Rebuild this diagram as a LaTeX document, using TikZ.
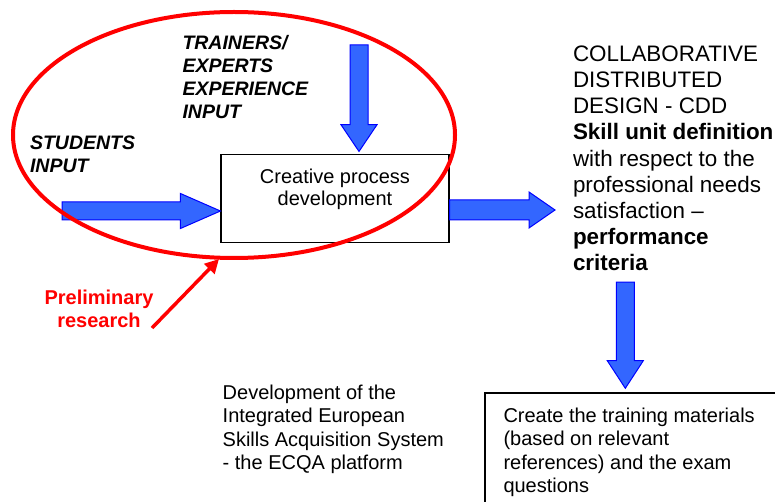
\documentclass[tikz,border=0pt]{standalone}
\usepackage{fontspec}
\setmainfont{Liberation Sans}
\usetikzlibrary{calc,arrows.meta,shapes.geometric}
\definecolor{arrowblue}{RGB}{51,102,255}
\definecolor{edgeblue}{RGB}{0,0,255}
\definecolor{pred}{RGB}{255,0,0}
\begin{document}
\begin{tikzpicture}[x=1pt,y=-1pt,
  txt/.style={inner sep=0pt, outer sep=0pt, align=left, anchor=north west},
  inlabel/.style={txt, font=\fontsize{19.5}{23}\selectfont\bfseries\itshape},
  plainbox/.style={draw=black, line width=1.1pt, inner sep=0pt},
  blockarrow/.style n args={3}{fill=arrowblue, draw=edgeblue, line width=1pt, line join=miter,
    to path={
      ($(\tikztostart)!#1!90:(\tikztotarget)$)
      -- ($(\tikztotarget)!#3!(\tikztostart)!#1!90:(\tikztotarget)$)
      -- ($(\tikztotarget)!#3!(\tikztostart)!#2!90:(\tikztotarget)$)
      -- (\tikztotarget)
      -- ($(\tikztotarget)!#3!(\tikztostart)!#2!-90:(\tikztotarget)$)
      -- ($(\tikztotarget)!#3!(\tikztostart)!#1!-90:(\tikztotarget)$)
      -- ($(\tikztostart)!#1!-90:(\tikztotarget)$)
      -- cycle}},
  redarrow/.style={draw=pred, line width=3.5pt, -{Triangle[length=14pt,width=14pt]}}
]
\useasboundingbox (0,0) rectangle (775,502);
\clip (0,0) rectangle (775,502);

% central box
\node[plainbox, minimum width=228pt, minimum height=88pt] (cpd) at (335,198.5) {};
\node[inner sep=0pt, align=center, anchor=north, font=\fontsize{20}{22}\selectfont] (cpdtxt) at (335,169) {Creative process\\development};

% bottom box (runs off the page)
\node[plainbox, minimum width=310pt, minimum height=130pt] (train) at (640,458) {};
\node[txt, font=\fontsize{20}{23.3}\selectfont] (traintxt) at (503.5,408) {Create the training materials\\(based on relevant\\references) and the exam\\questions};

% labels
\node[inlabel] (trainers) at (182.5,35) {TRAINERS/\\EXPERTS\\EXPERIENCE\\INPUT};
\node[inlabel] (students) at (30,136) {STUDENTS\\INPUT};
\node[txt, font=\fontsize{22.4}{26.1}\selectfont] (cdd) at (573,46) {COLLABORATIVE\\DISTRIBUTED\\DESIGN - CDD\\\textbf{Skill unit definition}\\with respect to the\\professional needs\\satisfaction --\\\textbf{performance}\\\textbf{criteria}};
\node[txt, font=\fontsize{20}{23.5}\selectfont] (ecqa) at (222.7,385) {Development of the\\Integrated European\\Skills Acquisition System\\- the ECQA platform};
\node[inner sep=0pt, align=center, anchor=north, text=pred, font=\fontsize{20}{23.5}\selectfont\bfseries] (pre) at (99,289.5) {Preliminary\\research};

% arrow end points
\coordinate (sTail) at (62,211);
\coordinate (sTip) at ([yshift=-12.5pt]cpd.west);
\coordinate (tTail) at (359,45);
\coordinate (tTip) at ([xshift=24pt,yshift=2.5pt]cpd.north);
\coordinate (mTail) at ([yshift=-11.5pt]cpd.east);
\coordinate (mTip) at (555,210);
\coordinate (dTail) at (625.3,282);
\coordinate (dTip) at (625.3,388.3);
\coordinate (pTail) at (152,328);

\draw[blockarrow={9pt}{17.5pt}{40pt}] (sTail) to (sTip);
\draw[blockarrow={9pt}{18pt}{26.7pt}] (tTail) to (tTip);
\draw[blockarrow={10pt}{18pt}{26pt}] (mTail) to (mTip);
\draw[blockarrow={9pt}{18pt}{27.6pt}] (dTail) to (dTip);

% red ellipse
\node[ellipse, draw=pred, line width=4pt, minimum width=442pt, minimum height=246pt, inner sep=0pt] (ell) at (234,135) {};
\coordinate (eHit) at ([xshift=-15pt,yshift=1pt]ell.south);
\draw[redarrow] (pTail) -- (eHit);
\end{tikzpicture}
\end{document}
